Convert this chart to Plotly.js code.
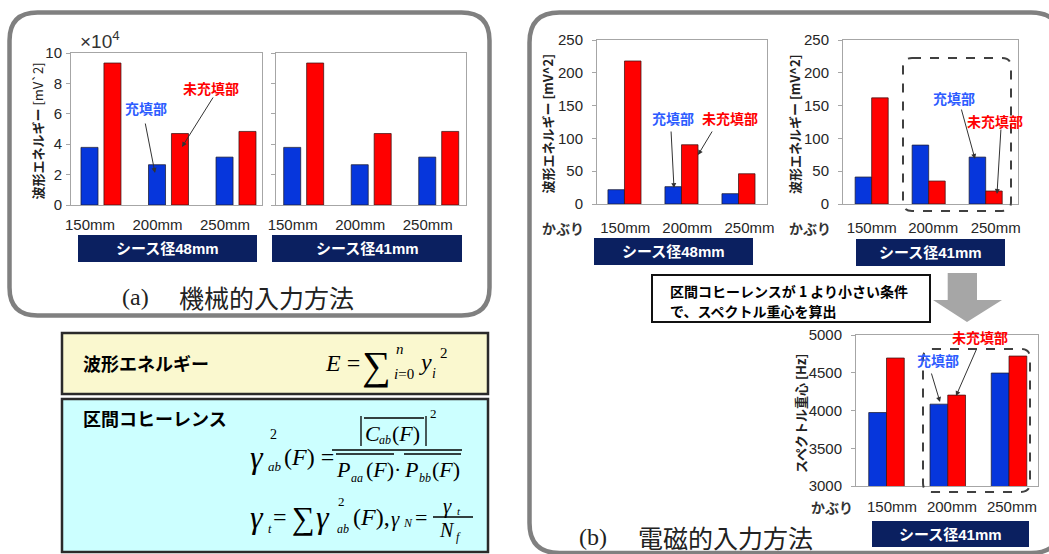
<!DOCTYPE html>
<html><head><meta charset="utf-8">
<script src="https://cdn.plot.ly/plotly-3.0.1.min.js"></script>
<style>html,body{margin:0;padding:0;background:#fff;}#chart{width:1049px;height:554px;}</style>
</head><body><div id="chart"></div>
<script>
// ---------------- data ----------------
const cover = ['150mm', '200mm', '250mm'];
const sheath48 = 'シース径48mm';
const sheath41 = 'シース径41mm';
const labelFilled = '充填部';
const labelUnfilled = '未充填部';
const coverLabel = 'かぶり';
// (a) mechanical input: waveform energy (x10^4 mV^2)
const mechFilled48 = [3.79, 2.65, 3.15];
const mechUnfilled48 = [9.34, 4.70, 4.84];
const mechFilled41 = [3.79, 2.65, 3.15];
const mechUnfilled41 = [9.34, 4.70, 4.84];
// (b) electromagnetic input: waveform energy (mV^2)
const emFilled48 = [21.8, 26.4, 15.7];
const emUnfilled48 = [218, 90.3, 46.1];
const emFilled41 = [41.1, 89.8, 71.5];
const emUnfilled41 = [161.8, 35.0, 19.8];
// (b) spectral centroid (Hz)
const centroidFilled41 = [3973, 4084, 4496];
const centroidUnfilled41 = [4695, 4204, 4721];

// ---------------- style ----------------
const W = 1049, H = 554;
const X = p => p / W, Y = p => 1 - p / H;
const BLUE = '#0636dc', RED = '#ff0000';
const TBLUE = '#2d5cff', TRED = '#ff0000';
const NAVY = '#0b2060';
const FRAME = '#a6a6a6', TICKC = '#262626';
const SANS = 'Liberation Sans, Noto Sans CJK JP, sans-serif';
const JP = 'Noto Sans CJK JP, sans-serif';
const SERIF = 'Liberation Serif, DejaVu Serif, serif';

const xs = cover.map((_, i) => i);
function pair(filled, unfilled, n, width, offB, offR) {
  const common = {type: 'bar', x: xs, xaxis: 'x' + n, yaxis: 'y' + n, width: width,
    showlegend: false, hoverinfo: 'skip'};
  return [
    Object.assign({}, common, {y: filled, offset: offB, name: labelFilled,
      marker: {color: BLUE, line: {color: 'rgba(30,30,50,0.75)', width: 1}}}),
    Object.assign({}, common, {y: unfilled, offset: offR, name: labelUnfilled,
      marker: {color: RED, line: {color: 'rgba(60,20,20,0.75)', width: 1}}})
  ];
}
const data = [].concat(
  pair(mechFilled48, mechUnfilled48, '', 0.252, -0.296, 0.044),
  pair(mechFilled41, mechUnfilled41, '2', 0.252, -0.296, 0.044),
  pair(emFilled48, emUnfilled48, '3', 0.29, -0.29, 0),
  pair(emFilled41, emUnfilled41, '4', 0.29, -0.29, 0),
  pair(centroidFilled41, centroidUnfilled41, '5', 0.29, -0.29, 0)
);

function xax(n, l, r, range, tickvals, standoff) {
  return {domain: [X(l), X(r)], range: range, anchor: 'y' + n, tickmode: 'array',
    tickvals: tickvals, ticktext: cover, showline: true, mirror: true, linecolor: FRAME,
    linewidth: 1, showgrid: false, zeroline: false, ticks: '', ticklabelstandoff: standoff,
    tickfont: {family: SANS, size: 15, color: TICKC}, fixedrange: true};
}
function yax(n, top, bot, range, dtick, showLabels, standoff) {
  return {domain: [Y(bot), Y(top)], range: range, dtick: dtick, anchor: 'x' + n,
    showline: true, mirror: true, linecolor: FRAME, linewidth: 1, showgrid: false,
    zeroline: false, ticks: 'outside', ticklen: 4, tickcolor: FRAME,
    showticklabels: showLabels, ticklabelstandoff: standoff,
    tickfont: {family: SANS, size: 15, color: TICKC}, fixedrange: true};
}

function roundPath(x0, y0, x1, y1, r) {
  const P = (x, y) => X(x) + ',' + Y(y);
  return 'M' + P(x0 + r, y0) + ' L' + P(x1 - r, y0) + ' Q' + P(x1, y0) + ' ' + P(x1, y0 + r) +
    ' L' + P(x1, y1 - r) + ' Q' + P(x1, y1) + ' ' + P(x1 - r, y1) +
    ' L' + P(x0 + r, y1) + ' Q' + P(x0, y1) + ' ' + P(x0, y1 - r) +
    ' L' + P(x0, y0 + r) + ' Q' + P(x0, y0) + ' ' + P(x0 + r, y0) + ' Z';
}
function polyPath(pts) {
  return pts.map((p, i) => (i ? 'L' : 'M') + X(p[0]) + ',' + Y(p[1])).join(' ') + ' Z';
}
function rect(x0, y0, x1, y1, fill, lc, lw, layer) {
  return {type: 'rect', xref: 'paper', yref: 'paper', x0: X(x0), x1: X(x1), y0: Y(y1), y1: Y(y0),
    fillcolor: fill, line: {color: lc || 'rgba(0,0,0,0)', width: lw || 0}, layer: layer || 'below'};
}
function line(x0, y0, x1, y1, w) {
  return {type: 'line', xref: 'paper', yref: 'paper', x0: X(x0), x1: X(x1), y0: Y(y0), y1: Y(y1),
    line: {color: '#000', width: w || 1.3}, layer: 'above'};
}

const shapes = [
  {type: 'path', xref: 'paper', yref: 'paper', path: roundPath(9.5, 12.5, 489.5, 315.5, 28),
    line: {color: '#808080', width: 4.5}, fillcolor: 'rgba(0,0,0,0)', layer: 'below'},
  {type: 'path', xref: 'paper', yref: 'paper', path: roundPath(529.5, 12.5, 1061, 553, 30),
    line: {color: '#808080', width: 4.5}, fillcolor: 'rgba(0,0,0,0)', layer: 'below'},
  // navy label boxes
  rect(78, 235, 257, 262, NAVY), rect(272, 235, 462, 262, NAVY),
  rect(594, 238, 753, 265, NAVY), rect(856, 239, 1005, 266, NAVY),
  rect(872, 521, 1029, 547, NAVY),
  // formula boxes
  rect(62, 333, 488, 394, '#faf8cf', '#2a2a2a', 2.5),
  rect(62, 399, 488, 552, '#ccffff', '#2a2a2a', 2.5),
  // condition text box
  rect(652, 275, 930, 322, '#ffffff', '#111', 2),
  // gray arrow
  {type: 'path', xref: 'paper', yref: 'paper', layer: 'below', fillcolor: '#a6a6a6', line: {width: 0},
    path: polyPath([[947.7, 273], [977, 273], [977, 300], [1002, 300], [967, 322], [933, 300], [947.7, 300]])},
  // dashed highlight boxes
  {type: 'path', xref: 'paper', yref: 'paper', path: roundPath(903, 58, 1011, 211, 9),
    line: {color: '#404040', width: 2, dash: 'dash'}, fillcolor: 'rgba(0,0,0,0)', layer: 'above'},
  {type: 'path', xref: 'paper', yref: 'paper', path: roundPath(923, 349, 1030, 492, 9),
    line: {color: '#404040', width: 2, dash: 'dash'}, fillcolor: 'rgba(0,0,0,0)', layer: 'above'},
  // coherence formula strokes
  line(332, 450, 462, 450), line(336, 454, 394, 454), line(404, 454, 461, 454),
  line(361, 416, 361, 446), line(426, 416, 426, 446), line(364, 418, 424, 418),
  line(433, 517, 473, 517)
];

const ann = [];
function txt(x, y, text, size, o) {
  o = o || {};
  ann.push({xref: 'paper', yref: 'paper', x: X(x), y: Y(y), text: text, showarrow: false,
    xanchor: o.xa || 'center', yanchor: 'middle', textangle: o.angle || 0,
    font: {family: o.family || JP, size: size, color: o.color || '#000', weight: o.weight || 'normal'}});
}
function arrow(x0, y0, x1, y1) {
  ann.push({xref: 'paper', yref: 'paper', x: X(x1), y: Y(y1), ax: x0 - x1, ay: y0 - y1,
    axref: 'pixel', ayref: 'pixel', text: '', showarrow: true, arrowhead: 2, arrowsize: 1,
    arrowwidth: 1, arrowcolor: '#333', standoff: 0});
}
function f(x, y, text, size) { txt(x, y, text, size, {xa: 'left', family: SERIF}); }

// (a) panel
txt(100, 40, '×10<sup>4</sup>', 19, {family: SANS, color: '#333'});
txt(36.5, 131, '<b>波形エネルギー</b> [mV`2]', 13, {angle: -90, color: '#222'});
txt(167.5, 248.5, sheath48, 15, {color: '#fff', weight: 'bold', family: SANS});
txt(367, 248.5, sheath41, 15, {color: '#fff', weight: 'bold', family: SANS});
txt(145.5, 108, labelFilled, 14, {color: TBLUE, weight: 'bold'});
txt(211, 88, labelUnfilled, 14, {color: TRED, weight: 'bold'});
arrow(145, 122, 155, 173); arrow(214, 96, 182, 147);
txt(135, 297, '(a)', 24, {family: SERIF, color: '#222'});
txt(177, 297, '機械的入力方法', 25, {xa: 'left', color: '#222'});

// (b) panel charts
txt(547.5, 124, '波形エネルギー [mV^2]', 13, {angle: -90, color: '#222', weight: 'bold'});
txt(795, 124, '波形エネルギー [mV^2]', 13, {angle: -90, color: '#222', weight: 'bold'});
txt(800, 414, 'スペクトル重心 [Hz]', 13, {angle: -90, color: '#222', weight: 'bold'});
txt(563, 228, coverLabel, 14, {color: '#333', weight: 'bold'});
txt(810, 228, coverLabel, 14, {color: '#333', weight: 'bold'});
txt(832, 507, coverLabel, 14, {color: '#333', weight: 'bold'});
txt(673.5, 251.5, sheath48, 15, {color: '#fff', weight: 'bold', family: SANS});
txt(930.5, 252.5, sheath41, 15, {color: '#fff', weight: 'bold', family: SANS});
txt(950.5, 534, sheath41, 15, {color: '#fff', weight: 'bold', family: SANS});
txt(673, 118, labelFilled, 14, {color: TBLUE, weight: 'bold'});
txt(730, 118, labelUnfilled, 14, {color: TRED, weight: 'bold'});
arrow(671, 130, 674, 188); arrow(713, 130, 698, 155);
txt(954, 98, labelFilled, 14, {color: TBLUE, weight: 'bold'});
txt(995, 121, labelUnfilled, 14, {color: TRED, weight: 'bold'});
arrow(961, 108, 975, 159); arrow(1001, 128, 997, 194);
txt(938, 360, labelFilled, 14, {color: TBLUE, weight: 'bold'});
txt(980, 337, labelUnfilled, 14, {color: TRED, weight: 'bold'});
arrow(931, 372, 940, 402); arrow(977, 348, 956, 396);
txt(668, 291, '区間コヒーレンスが 1 より小さい条件', 14, {xa: 'left', weight: 'bold'});
txt(668, 311, 'で、スペクトル重心を算出', 14, {xa: 'left', weight: 'bold'});
txt(593, 537, '(b)', 24, {family: SERIF, color: '#222'});
txt(636, 537, '電磁的入力方法', 25, {xa: 'left', color: '#222'});

// formula boxes
txt(81, 363, '波形エネルギー', 18, {xa: 'left', weight: 'bold'});
f(323, 363, '<i>E</i> =', 24);
f(360, 365, '∑', 40);
f(394, 349, '<i>n</i>', 15);
f(392, 374, '<i>i</i>=0', 15);
f(417, 362, '<i>y</i>', 24);
f(430, 373, '<i>i</i>', 14);
f(438, 353, '2', 15);
txt(81, 418, '区間コヒーレンス', 18, {xa: 'left', weight: 'bold'});
f(248, 457, '<i>γ</i>', 32);
f(268, 434, '2', 14);
f(266, 466, '<i>ab</i>', 13);
f(282, 457, '(<i>F</i>) =', 24);
f(363, 433, '<i>C</i>', 22);
f(377, 440, '<i>ab</i>', 12);
f(390, 433, '(<i>F</i>)', 22);
f(428, 413, '2', 13);
f(334, 469, '<i>P</i>', 22);
f(349, 478, '<i>aa</i>', 12);
f(364, 469, '(<i>F</i>)·', 22);
f(402, 469, '<i>P</i>', 22);
f(417, 478, '<i>bb</i>', 12);
f(430, 469, '(<i>F</i>)', 22);
f(248, 517, '<i>γ</i>', 32);
f(266, 529, '<i>t</i>', 12);
f(271, 517, '=', 24);
f(290, 518, '∑', 32);
f(314, 517, '<i>γ</i>', 32);
f(336, 501, '2', 13);
f(335, 529, '<i>ab</i>', 12);
f(351, 517, '(<i>F</i>),', 24);
f(389, 519, '<i>γ</i>', 21);
f(401, 523, '<i>N</i>', 12);
f(413, 517, '=', 22);
f(441, 506, '<i>γ</i>', 21);
f(455, 511, '<i>t</i>', 11);
f(437, 530, '<i>N</i>', 20);
f(454, 537, '<i>f</i>', 12);

const shiftA = -0.163;
const layout = {
  width: W, height: H, margin: {l: 0, r: 0, t: 0, b: 0},
  paper_bgcolor: '#ffffff', plot_bgcolor: 'rgba(0,0,0,0)',
  barmode: 'overlay', showlegend: false, dragmode: false,
  xaxis: xax('', 71, 262, [-0.444, 2.385], xs.map(i => i + shiftA), 6),
  yaxis: yax('', 53, 205, [0, 10], 2, true, 1),
  xaxis2: xax('2', 276, 466, [-0.41, 2.404], xs.map(i => i + shiftA), 6),
  yaxis2: yax('2', 53, 205, [0, 10], 2, false, 1),
  xaxis3: xax('3', 597, 767, [-0.482, 2.5], [0.014, 1.102, 2.193], 10),
  yaxis3: yax('3', 40, 204, [0, 250], 50, true, 6),
  xaxis4: xax('4', 843, 1018, [-0.503, 2.567], [0, 1.079, 2.175], 10),
  yaxis4: yax('4', 40, 204, [0, 250], 50, true, 6),
  xaxis5: xax('5', 856, 1038, [-0.498, 2.473], [0.09, 1.068, 2.047], 7),
  yaxis5: yax('5', 335, 486, [3000, 5000], 500, true, 6),
  shapes: shapes, annotations: ann
};
Plotly.newPlot('chart', data, layout, {displayModeBar: false, staticPlot: true});
</script></body></html>
